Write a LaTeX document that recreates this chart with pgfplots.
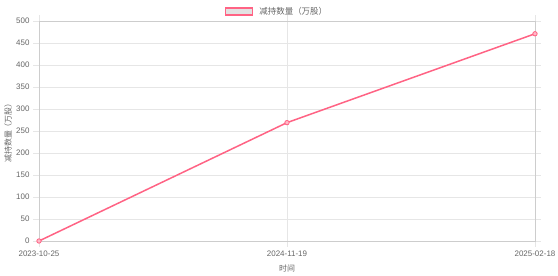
\documentclass[border=0pt]{standalone}
\usepackage{pgfplots}
\pgfplotsset{compat=1.18}
\usepackage{fontspec}
\setmainfont{Liberation Sans}
\newfontfamily\cjk{Noto Sans CJK SC}
\definecolor{pinkline}{RGB}{255,99,132}
\definecolor{gridc}{RGB}{230,230,230}
\definecolor{axisc}{RGB}{205,205,205}
\definecolor{txt}{RGB}{102,102,102}
\definecolor{legfill}{RGB}{226,226,226}
\begin{document}
\begin{tikzpicture}
\path[use as bounding box] (-39bp,-35bp) rectangle (519bp,241bp);
\begin{axis}[
  at={(0,0)}, anchor=south west,
  scale only axis, width=496bp, height=220bp,
  xmin=0, xmax=2, ymin=0, ymax=500,
  xtick={0,1,2},
  xticklabels={2023-10-25,2024-11-19,2025-02-18},
  ytick={0,50,...,500},
  grid=major,
  major grid style={gridc, line width=0.7bp},
  axis line style={axisc, line width=0.7bp},
  tick style={gridc, line width=0.7bp},
  tick align=outside,
  major tick length=6bp,
  /pgf/number format/assume math mode=true,
  ticklabel style={font=\fontsize{8}{9}\selectfont, text=txt},
  xlabel={\cjk 时间},
  ylabel={\cjk 减持数量（万股）},
  label style={font=\fontsize{8}{9}\selectfont, text=txt},
  xlabel style={at={(axis description cs:0.5,0)}, anchor=center, yshift=-27bp},
  ylabel style={at={(axis description cs:0,0.5)}, anchor=center, yshift=31bp},
  legend style={at={(axis description cs:0.5,1)}, anchor=center, yshift=9.5bp, xshift=-10bp,
    draw=none, fill=none, font=\cjk\fontsize{8.5}{9}\selectfont, text=txt,
    inner sep=0pt},
  legend cell align=left,
  legend image code/.code={
    \draw[pinkline, fill=legfill, line width=1.5bp] (0bp,-3.5bp) rectangle (27bp,3.5bp);
    \path (31bp,0bp);
  },
]
\addplot[pinkline, line width=1.5bp, mark=*, mark size=2.2bp,
  mark options={fill=pinkline!45, draw=pinkline, line width=0.8bp}]
  coordinates {(0,0) (1,269) (2,471)};
\addlegendentry{减持数量（万股）}
\end{axis}
\end{tikzpicture}
\end{document}
